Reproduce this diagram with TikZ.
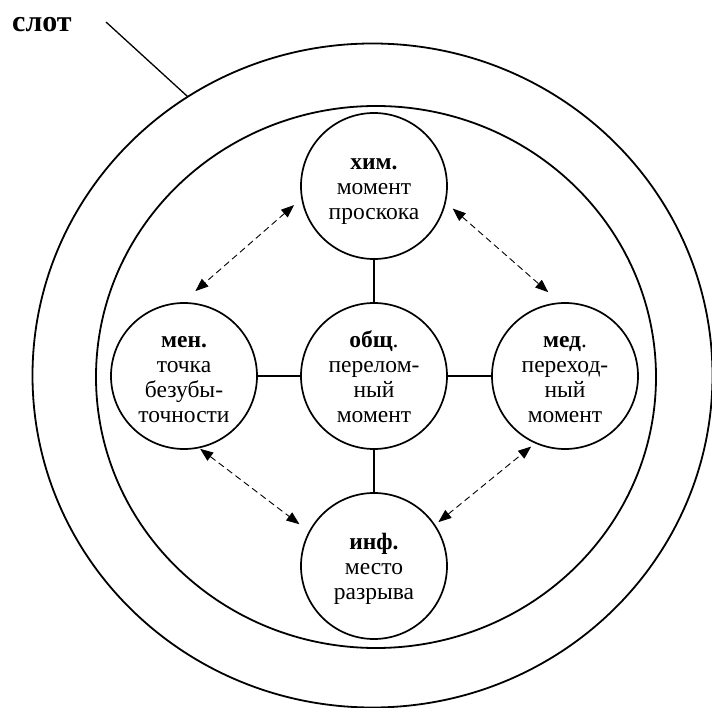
\documentclass[tikz,border=0pt]{standalone}
\usepackage{fontspec}
\setmainfont{Liberation Serif}
\usetikzlibrary{arrows.meta,calc}
\newcommand\topstrut{\rule{0pt}{22pt}}
\newcommand\botstrut{\rule[-5pt]{0pt}{5pt}}
\begin{document}
\begin{tikzpicture}[x=1pt,y=-1pt,
  bubble/.style={circle,draw,line width=1.7pt,minimum size=146pt,inner sep=0pt,
                 align=center,font=\fontsize{23.5}{25}\selectfont},
  ring/.style={line width=1.8pt},
  link/.style={line width=1.5pt},
  pointer/.style={line width=1.3pt},
  dasharrow/.style={line width=0.9pt,dash pattern=on 6.5pt off 4pt,
                    arrows={Triangle[length=13pt,width=10pt]-Triangle[length=13pt,width=10pt]}}]
\useasboundingbox (0,0) rectangle (712,708);

% rings
\coordinate (oc) at (372.5,375.5);
\coordinate (ic) at (376,377);
\draw[ring] (oc) ellipse [x radius=340, y radius=332];
\draw[ring] (ic) ellipse [x radius=280, y radius=271];

% label
\node[anchor=base west,inner sep=0pt,font=\bfseries\fontsize{30}{32}\selectfont] (slot) at (12,32) {слот};
\coordinate (slotstart) at (106,22);
\coordinate (slottip) at ($(oc)+(237.1:340 and 332)$);
\draw[pointer] (slotstart) -- (slottip);

% circles
\node[bubble] (top) at (374,186) {\topstrut\textbf{хим.}\\момент\\проскока\botstrut};
\node[bubble] (men) at (184,376) {\topstrut\textbf{мен.}\\точка\\безубы-\\точности\botstrut};
\node[bubble] (ctr) at (374,376) {\topstrut\textbf{общ}.\\перелом-\\ный\\момент\botstrut};
\node[bubble] (med) at (565,376) {\topstrut\textbf{мед}.\\переход-\\ный\\момент\botstrut};
\node[bubble] (bot) at (374,566) {\topstrut\textbf{инф.}\\место\\разрыва\botstrut};

% solid links
\draw[link] (top) -- (ctr);
\draw[link] (ctr) -- (bot);
\draw[link] (men) -- (ctr);
\draw[link] (ctr) -- (med);

% dashed double arrows
\draw[dasharrow,shorten <=9.5pt,shorten >=16.8pt] (top.190) -- (men.91);
\draw[dasharrow,shorten <=9pt,shorten >=15.4pt] (top.347) -- (med.94);
\draw[dasharrow,shorten <=1pt,shorten >=11.75pt] (men.282) -- (bot.152);
\draw[dasharrow,shorten <=4.1pt,shorten >=4.9pt] (bot.34) -- (med.246);
\end{tikzpicture}
\end{document}
